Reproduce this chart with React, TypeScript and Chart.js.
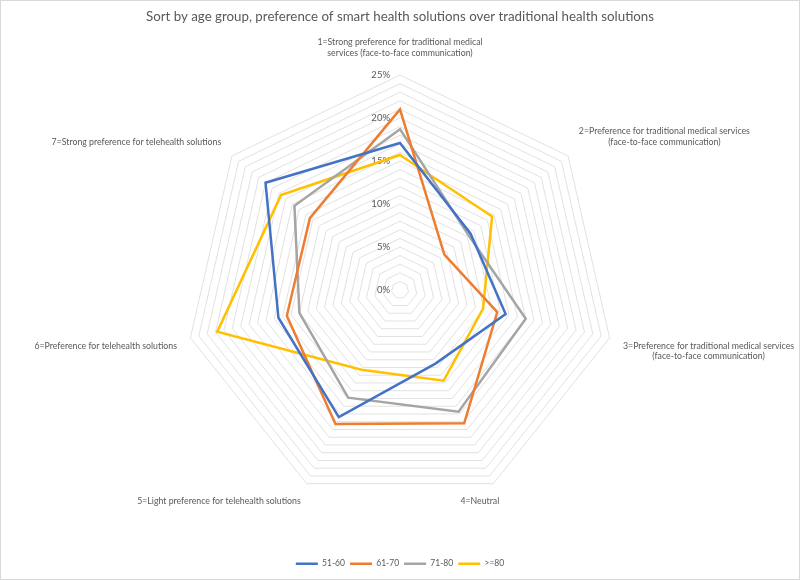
import { useEffect, useRef } from "react";
import { Chart, registerables, RadialLinearScale } from "chart.js";

const categories: (string | string[])[] = [
  ["1=Strong preference for traditional medical", "services (face-to-face communication)"],
  ["2=Preference for traditional medical services", "(face-to-face communication)"],
  ["3=Preference for traditional medical services", "(face-to-face communication)"],
  "4=Neutral",
  "5=Light preference for telehealth solutions",
  "6=Preference for telehealth solutions",
  "7=Strong preference for telehealth solutions",
];

const seriesNames = ["51-60", "61-70", "71-80", ">=80"];
const values5160 = [17.1, 10.5, 12.6, 9.5, 16.4, 14.5, 20.0];
const values6170 = [21.0, 6.6, 11.6, 17.2, 17.3, 13.5, 13.4];
const values7180 = [18.7, 10.2, 15.0, 15.7, 13.9, 12.0, 15.7];
const values80 = [15.7, 13.7, 9.9, 11.7, 10.3, 21.8, 17.7];

const gridTicks = [0, 1, 2, 3, 4, 5, 6, 7, 8, 9, 10, 11, 12, 13, 14, 15, 16, 17, 18, 19, 20, 21, 22, 23, 24, 25];
const labelTicks = [0, 5, 10, 15, 20, 25];

const seriesColors = ["#4472C4", "#ED7D31", "#A5A5A5", "#FFC000"];
const textColor = "#595959";
const FAMILY = "Lato, 'Open Sans', sans-serif";
const tickFontSize = 9.5;
const labelFontSize = 8.75;
const tickGap = 10;

// Radial scale whose value labels sit to the left of the vertical axis (Excel style)
// and whose multi-line category labels are centred line by line.
class ExcelRadialScale extends RadialLinearScale {
  static id = "excelRadial";
  fit() {
    super.fit();
    const items = (this as any)._pointLabelItems;
    if (!items) return;
    items.forEach((it: any, i: number) => {
      if (i === 1 || i === 2) {
        it.x = (it.left + it.right) / 2;
        it.textAlign = "center";
      }
      if (i === 3) {
        it.textAlign = "right";
      }
    });
  }
  drawLabels() {
    const self: any = this;
    const tickOpts = self.options.ticks;
    if (!tickOpts.display) return;
    const ctx = self.ctx as CanvasRenderingContext2D;
    ctx.save();
    ctx.translate(self.xCenter, self.yCenter);
    ctx.textAlign = "right";
    ctx.textBaseline = "middle";
    ctx.font = `${tickFontSize}px ${FAMILY}`;
    ctx.fillStyle = tickOpts.color;
    self.ticks.forEach((tick: any) => {
      if (!tick.label) return;
      const offset = self.getDistanceFromCenterForValue(tick.value);
      ctx.fillText(tick.label, -tickGap, -offset);
    });
    ctx.restore();
  }
}

Chart.register(...registerables, ExcelRadialScale);

export default function App() {
  const canvasRef = useRef<HTMLCanvasElement | null>(null);

  useEffect(() => {
    if (!canvasRef.current) return;
    const allSeries = [values5160, values6170, values7180, values80];
    const chart = new Chart(canvasRef.current, {
      type: "radar",
      data: {
        labels: categories,
        datasets: allSeries.map((vals, i) => ({
          label: seriesNames[i],
          data: vals,
          borderColor: seriesColors[i],
          backgroundColor: seriesColors[i],
          borderWidth: 2.5,
          fill: false,
          pointRadius: 0,
          pointHoverRadius: 0,
          tension: 0,
        })),
      },
      options: {
        animation: false,
        responsive: true,
        maintainAspectRatio: false,
        layout: { padding: { left: 0, right: 0, top: 0, bottom: 2 } },
        plugins: {
          title: {
            display: true,
            text: "Sort by age group, preference of smart health solutions over traditional health solutions",
            color: textColor,
            font: { family: FAMILY, size: 13.3, weight: "normal" },
            padding: { top: 9, bottom: -3.7 },
          },
          subtitle: {
            display: true,
            position: "bottom",
            weight: 500,
            text: " ",
            font: { family: FAMILY, size: 10 },
            padding: { top: 8, bottom: 7.74 },
          },
          legend: {
            position: "bottom",
            labels: {
              usePointStyle: true,
              pointStyle: "line",
              pointStyleWidth: 22,
              color: textColor,
              font: { family: FAMILY, size: 8.5 },
              padding: 5,
            },
          },
          tooltip: { enabled: false },
        },
        scales: {
          r: {
            type: "excelRadial",
            min: 0,
            max: 25,
            afterBuildTicks: (axis: any) => {
              axis.ticks = gridTicks.map((v) => ({ value: v }));
            },
            angleLines: { display: false },
            grid: { color: "#D9D9D9", lineWidth: 0.8, circular: false },
            ticks: {
              showLabelBackdrop: false,
              backdropPadding: 0,
              color: textColor,
              font: { family: FAMILY, size: tickFontSize },
              callback: (v: any) => {
                const val = Math.round(Number(v));
                return labelTicks.includes(val) ? `${val}%` : "";
              },
            },
            pointLabels: {
              color: textColor,
              font: { family: FAMILY, size: labelFontSize },
              padding: (ctx: any) => (ctx.index === 0 ? 12 : 9),
            },
          },
        } as any,
      },
    });
    return () => chart.destroy();
  }, []);

  return (
    <div
      style={{
        position: "absolute",
        left: 0,
        top: 0,
        width: 800,
        height: 580,
        overflow: "hidden",
        background: "#fff",
      }}
    >
      <div style={{ position: "absolute", left: -30, top: 0, width: 860, height: 580 }}>
        <canvas ref={canvasRef} />
      </div>
      <div
        style={{
          position: "absolute",
          left: 0,
          top: 0,
          width: 800,
          height: 580,
          boxSizing: "border-box",
          border: "1px solid #D9D9D9",
          pointerEvents: "none",
        }}
      />
    </div>
  );
}
